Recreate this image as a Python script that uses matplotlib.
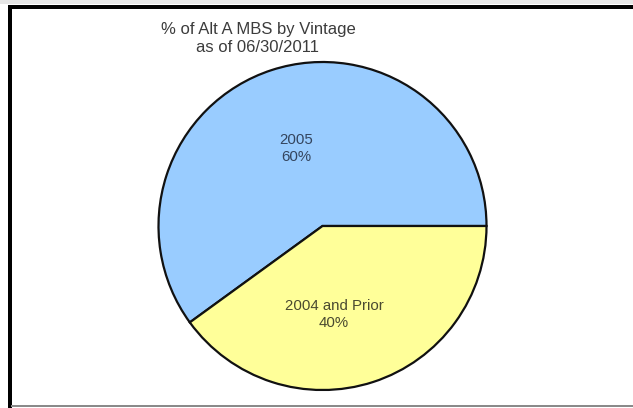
import matplotlib
matplotlib.use("Agg")
import matplotlib.pyplot as plt
from matplotlib.patches import Rectangle

# Data
categories = ["2005", "2004 and Prior"]
shares = [60, 40]
colors = ["#99CCFF", "#FFFF99"]
title_lines = ["% of Alt A MBS by Vintage", "as of 06/30/2011"]

W, H = 633, 408
fig = plt.figure(figsize=(W / 100, H / 100), dpi=100)
ax = fig.add_axes([0, 0, 1, 1])

# Pie in pixel-like coordinates (y up)
cx, cy, r = 322.5, H - 226, 164
wedges, _ = ax.pie(shares, colors=colors, startangle=0, counterclock=True,
                   center=(cx, cy), radius=r,
                   wedgeprops=dict(edgecolor="#111111", linewidth=1.6))
ax.set_xlim(0, W)
ax.set_ylim(0, H)
ax.set_aspect("auto")
ax.axis("off")

font = ["Liberation Sans", "DejaVu Sans"]
txt_color = "#3c3c3c"

# Slice labels
label_pos = [(296, H - 148.5), (334, H - 314.5)]
label_colors = ["#34455e", "#4a4a30"]
for (x, y), cat, val, c in zip(label_pos, categories, shares, label_colors):
    ax.text(x, y, f"{cat}\n{val}%", ha="center", va="center", fontsize=10.8,
            family=font, color=c, linespacing=1.25)

# Title
ax.text(258, H - 38.5, "\n".join(title_lines), ha="center", va="center",
        fontsize=12, family=font, color=txt_color, linespacing=1.3)

# Outer frame
ax.add_patch(Rectangle((0, H - 4), W, 4, facecolor="#e6e6e6", edgecolor="none",
                       clip_on=False))
ax.add_patch(Rectangle((8, H - 9), W - 8, 4, facecolor="#000000", edgecolor="none",
                       clip_on=False))
ax.add_patch(Rectangle((8, 0), 3.5, H - 5, facecolor="#000000", edgecolor="none",
                       clip_on=False))
ax.add_patch(Rectangle((11, 1), W - 11, 2.5, facecolor="#8a8a8a", edgecolor="none",
                       clip_on=False))

fig.savefig("out.png", dpi=100)
